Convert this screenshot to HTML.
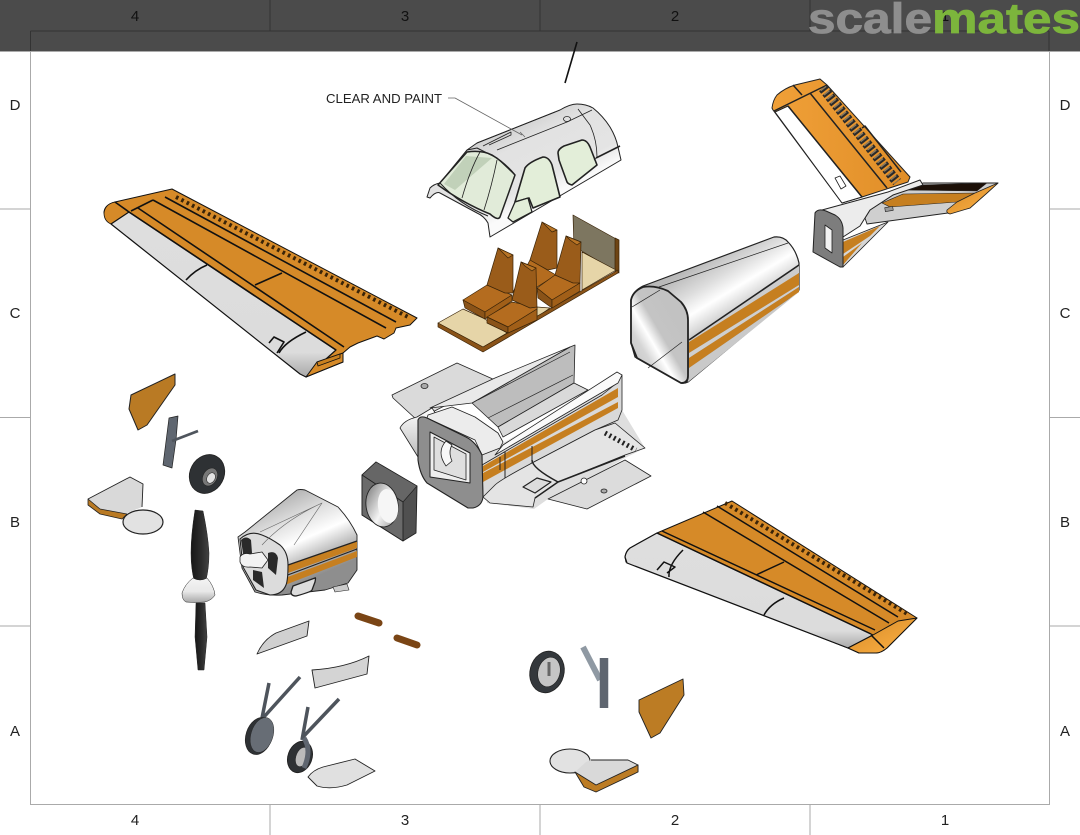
<!DOCTYPE html>
<html><head><meta charset="utf-8"><title>Exploded aircraft diagram</title>
<style>html,body{margin:0;padding:0;background:#fff}svg{display:block}text{font-family:"Liberation Sans",sans-serif}</style></head>
<body>
<svg width="1080" height="835" viewBox="0 0 1080 835" xmlns="http://www.w3.org/2000/svg">
<defs>
<linearGradient id="can" gradientUnits="userSpaceOnUse" x1="520" y1="110" x2="560" y2="190"><stop offset="0" stop-color="#c9c9c9"/><stop offset=".35" stop-color="#e2e2e2"/><stop offset=".8" stop-color="#e4e4e4"/><stop offset="1" stop-color="#fafafa"/></linearGradient>
<linearGradient id="int" x1="0" y1="1" x2="1" y2="0"><stop offset="0" stop-color="#bdbdbd"/><stop offset=".28" stop-color="#d5d5d5"/><stop offset=".4" stop-color="#fff"/><stop offset=".52" stop-color="#c4c4c4"/><stop offset="1" stop-color="#c0c0c0"/></linearGradient>
<linearGradient id="rear" gradientUnits="userSpaceOnUse" x1="700" y1="262" x2="738" y2="325"><stop offset="0" stop-color="#b9b9b9"/><stop offset=".3" stop-color="#dcdcdc"/><stop offset=".55" stop-color="#fff"/><stop offset=".78" stop-color="#d6d6d6"/><stop offset="1" stop-color="#8f8f8f"/></linearGradient>
<linearGradient id="cowl" gradientUnits="userSpaceOnUse" x1="285" y1="495" x2="320" y2="575"><stop offset="0" stop-color="#b4b4b4"/><stop offset=".3" stop-color="#e0e0e0"/><stop offset=".55" stop-color="#fff"/><stop offset=".78" stop-color="#bdbdbd"/><stop offset="1" stop-color="#8e8e8e"/></linearGradient>
<linearGradient id="wg" x1="0" y1="0" x2="0" y2="1"><stop offset="0" stop-color="#dedede"/><stop offset=".85" stop-color="#dcdcdc"/><stop offset="1" stop-color="#a8a8a8"/></linearGradient>
<linearGradient id="tipO" x1="0" y1="0" x2="1" y2="1"><stop offset="0" stop-color="#d68a28"/><stop offset=".7" stop-color="#f2a63c"/><stop offset="1" stop-color="#c47a1c"/></linearGradient>
<linearGradient id="finO" x1="0" y1="0" x2="1" y2="0"><stop offset="0" stop-color="#f0a038"/><stop offset="1" stop-color="#e08e28"/></linearGradient>
<linearGradient id="hole" x1="0" y1="0" x2="1" y2="1"><stop offset="0" stop-color="#6d6d6d"/><stop offset=".55" stop-color="#f5f5f5"/><stop offset="1" stop-color="#8a8a8a"/></linearGradient>
<linearGradient id="hub" x1="0" y1="0" x2="0" y2="1"><stop offset="0" stop-color="#f4f4f4"/><stop offset=".55" stop-color="#e8e8e8"/><stop offset="1" stop-color="#a8a8a8"/></linearGradient>
<linearGradient id="blade" x1="0" y1="0" x2="1" y2="0"><stop offset="0" stop-color="#161616"/><stop offset=".6" stop-color="#2e2e2e"/><stop offset="1" stop-color="#444"/></linearGradient>
<linearGradient id="body" x1="0" y1="0" x2="0" y2="1"><stop offset="0" stop-color="#fff"/><stop offset=".5" stop-color="#ddd"/><stop offset="1" stop-color="#bbb"/></linearGradient>
</defs>
<rect width="1080" height="835" fill="#fff"/>

<!-- Frame -->
<g fill="none" stroke="#aaa" stroke-width="1">
<rect x="30.5" y="30.5" width="1019" height="774"/>
<path d="M0 209H31M0 417.5H31M0 626H31M1049 209H1080M1049 417.5H1080M1049 626H1080M270 0V31M540 0V31M810 0V31M270 804V835M540 804V835M810 804V835"/>
</g>
<g font-size="15" fill="#222" text-anchor="middle">
<text x="15" y="110">D</text><text x="15" y="318">C</text><text x="15" y="527">B</text><text x="15" y="736">A</text>
<text x="1065" y="110">D</text><text x="1065" y="318">C</text><text x="1065" y="527">B</text><text x="1065" y="736">A</text>
<text x="135" y="825">4</text><text x="405" y="825">3</text><text x="675" y="825">2</text><text x="945" y="825">1</text>
</g>

<!-- Left wing -->
<g stroke="#111" stroke-linejoin="round">
<path d="M104 213Q104 205 115 202L172 189L417 318L410 325L396 328L394 333L384 339L377 336L358 343L350 347L343 353L343 362L306 377Z" fill="#d68a28" stroke-width="1"/>
<path d="M104 213Q104 221 111 224L129 212L115 202Q105 204 104 213Z" fill="#d68a28" stroke-width=".8"/>
<path d="M111 224L129 212L336 350L306 377L300 374Z" fill="url(#wg)" stroke-width="1.2"/>
<path d="M306 377L317 362L343 353V362Z" fill="#d68a28" stroke-width="1"/>
<path d="M317 362L340 354V358L318 366Z" fill="#c9801f" stroke-width=".8"/>
<path d="M129 212L336 350M138 208L344 347M115 202L129 212M131 211L153 200M153 200L386 328M165 197L396 322M255 285L282 273M186 280Q195 270 207 265M279 353Q285 342 306 332M269 343L274 337L284 342L277 353" fill="none" stroke-width="1.6"/>
<path d="M176 197L410 318" fill="none" stroke="#3a2408" stroke-width="4" stroke-dasharray="2.6 3.4"/>
</g>

<!-- Right wing -->
<g stroke="#111" stroke-linejoin="round">
<path d="M625 557Q626 551 630 548L657 533L732 501L917 618L887 648Q881 653 876 653H859L848 648L626 562Z" fill="#d68a28" stroke-width="1"/>
<path d="M625 557Q626 551 630 548L657 533L873 635L848 648L627 563Z" fill="url(#wg)" stroke-width="1.2"/>
<path d="M873 635L898 621L917 618L887 648Q881 653 876 653H859L848 648Z" fill="url(#tipO)" stroke-width="1"/>
<path d="M657 533L871 634M662 531L875 630M703 512L889 623M717 506L898 617M756 575L784 562M764 615Q770 604 784 598M669 577Q668 565 683 550M657 570L664 562L675 567L667 573M871 635L884 648" fill="none" stroke-width="1.5"/>
<path d="M725 503L909 615" fill="none" stroke="#3a2408" stroke-width="4" stroke-dasharray="2.6 3.4"/>
</g>

<!-- Canopy -->
<g stroke="#222" stroke-linejoin="round">
<path d="M427 197L430 188Q434 184 440 183L467 150L477 143L560 110Q570 104 577 104Q586 104 593 108Q603 116 610 127Q616 137 618 147L621 160L490 237L488 223Q484 216 477 213L440 193Q436 191 430 198Z" fill="url(#can)" stroke-width="1"/>
<path d="M438 185L467 152Q482 150 492 155Q505 163 515 175L500 217Q498 221 490 214Q463 203 438 185Z" fill="#e1ebd9" stroke-width="1.5"/>
<path d="M444 184L466 156L492 158L455 190Z" fill="#b6c8ad" stroke="none" opacity=".75"/>
<path d="M480 152Q470 170 462 198M497 160Q492 185 484 210" fill="none" stroke-width=".8"/>
<path d="M515 202L525 168Q529 162 543 157Q549 157 552 165L560 197L533 208L529 198Z" fill="#e3eed9" stroke-width="1.6"/>
<path d="M508 218L515 202L528 198L532 212L513 222Z" fill="#e3eed9" stroke-width="1.3"/>
<path d="M558 153Q558 149 564 146L582 140Q587 140 590 147L597 165L572 185Q568 184 567 182L559 160Z" fill="#e3eed9" stroke-width="1.6"/>
<path d="M477 143L555 112M497 150L567 122L592 110M578 109L590 125Q597 140 597 157L594 160M483 146L511 132L511 135L489 145" fill="none" stroke-width=".8"/>
<path d="M440 183Q460 205 488 216M467 150L477 148L497 158L515 175" fill="none" stroke-width="1"/>
<path d="M596 158L620 146" fill="none" stroke-width="1.6"/>
<ellipse cx="567" cy="119" rx="3.5" ry="2.5" fill="none" stroke-width=".8"/>
<path d="M448 98H455L522 135M520 132L525 137" fill="none" stroke="#666" stroke-width=".8"/>
</g>
<text x="326" y="103" font-size="12.5" fill="#222" textLength="116" lengthAdjust="spacingAndGlyphs">CLEAR AND PAINT</text>

<!-- Seats -->
<g stroke="#3a2408" stroke-width=".7" stroke-linejoin="round">
<path d="M573 215L618 240V273L580 250L574 247Z" fill="#7d7660"/>
<path d="M615 238L619 240V273L615 270Z" fill="#6e4515"/>
<path d="M438 323L463 309L483 318L507 333L483 347Z" fill="#e6d5a8"/>
<path d="M582 252L616 270L582 290Z" fill="#e6d5a8"/>
<path d="M537 307L550 308L537 317Z" fill="#e6d5a8"/>
<path d="M438 323L483 347L618 270V273L483 352L438 327Z" fill="#8a5318"/>
<path d="M513 292L530 260L556 275L537 287Z" fill="#b46c1f"/>
<path d="M530 260L542 222L557 230L557 268L548 270Z" fill="#9a5c1a"/>
<path d="M542 222L557 230L552 232L546 226Z" fill="#b87425"/>
<path d="M537 288L555 275L580 283L552 300Z" fill="#b46c1f"/>
<path d="M537 288L552 300V308L538 298Z" fill="#8a5318"/>
<path d="M552 300L580 283V291L552 308Z" fill="#a15f18"/>
<path d="M555 275L566 236L581 242L580 283L573 283Z" fill="#9a5c1a"/>
<path d="M566 236L581 242L577 245L570 240Z" fill="#b87425"/>
<path d="M463 300L487 285L512 295L485 312Z" fill="#b46c1f"/>
<path d="M463 300L485 312V319L465 308Z" fill="#8a5318"/>
<path d="M485 312L512 295V301L485 319Z" fill="#a15f18"/>
<path d="M487 285L498 248L513 255L513 293L505 293Z" fill="#9a5c1a"/>
<path d="M498 248L513 255L508 258L502 252Z" fill="#b87425"/>
<path d="M487 317L512 302L537 307L537 309L508 327Z" fill="#b46c1f"/>
<path d="M487 317L508 327V333L487 323Z" fill="#8a5318"/>
<path d="M508 327L537 309V320L508 333Z" fill="#a15f18"/>
<path d="M512 300L521 262L536 268L537 307L530 308Z" fill="#9a5c1a"/>
<path d="M521 262L536 268L532 271L525 266Z" fill="#b87425"/>
</g>

<!-- Center fuselage -->
<g stroke="#222" stroke-linejoin="round" stroke-width=".8">
<path d="M392 395L457 363L495 380L417 420L393 398Z" fill="#dadada"/>
<ellipse cx="424.500" cy="386" rx="3.5" ry="2.5" fill="#aaa"/>
<path d="M472 403L570 347L575 345L574 383L498 427Z" fill="#bdbdbd"/>
<path d="M478 400L570 352M488 418L573 375" fill="none" stroke-width=".7"/>
<path d="M498 427L574 383L588 390L503 437Z" fill="#d9d9d9"/>
<path d="M430 408L495 378L570 347L472 403Z" fill="#e9e9e9"/>
<path d="M400 428Q404 420 417 417L432 408L440 420L420 458L418 457Z" fill="url(#body)"/>
<path d="M482 455L622 375V410L645 448L625 458L587 480L548 499L534 509L487 503Z" fill="#dedede" stroke="none"/>
<path d="M482 465L602 395L618 382L622 375L622 410L618 420L595 430L532 463L495 487L483 497Z" fill="#d9d9d9"/>
<path d="M503 445L617 372L622 375L618 383L495 455Z" fill="#fafafa"/>
<path d="M483 466L618 388V397L483 472Z" fill="#c67f20" stroke="none"/>
<path d="M483 473L618 402V408L483 482Z" fill="#c67f20" stroke="none"/>
<path d="M500 457V470M505 452V480M532 446V463" fill="none" stroke-width="1"/>
<path d="M483 497L495 485Q500 480 532 463L595 430L615 423L645 448L625 455L558 482L535 498L533 507L490 503Z" fill="#e4e4e4"/>
<path d="M605 433L636 450" fill="none" stroke="#222" stroke-width="5" stroke-dasharray="2 3"/>
<path d="M532 460Q532 468 558 482M535 498L558 482L625 456" fill="none" stroke-width="1.5"/>
<path d="M523 487L537 478L551 482L535 493Z" fill="#ddd" stroke-width="1.2"/>
<path d="M548 499L625 460L651 476L587 509Z" fill="#dcdcdc"/>
<circle cx="584" cy="481" r="3" fill="#fff"/><ellipse cx="604" cy="491" rx="3" ry="2" fill="#aaa"/>
<path d="M428 415L452 407L475 417L498 433L503 442L500 448L482 455L475 440L427 418Z" fill="#ececec"/>
<path d="M418 420Q420 415 427 418L466 437Q476 442 482 455L483 497Q482 506 473 508L468 508L427 483Q420 475 418 460Z" fill="#8e8e8e" stroke-width="1.1"/>
<path d="M430 432L470 453L470 483L430 477Z" fill="#eee" stroke-width="1"/>
<path d="M434 437L466 454V480L434 470Z" fill="#dfdfdf"/>
<path d="M446 441Q436 452 446 466L452 461Q448 452 452 445Z" fill="#f8f8f8"/>
</g>

<!-- Rear fuselage -->
<g stroke="#222" stroke-linejoin="round">
<path d="M631 300Q633 291 643 286L774 237Q783 236 788 242Q796 250 799 263V290L688 382Q684 384 681 383L635 357L631 343Z" fill="url(#rear)" stroke-width="1.2"/>
<path d="M689 340L799 265V273L689 342Z" fill="#ccc" stroke="none"/>
<path d="M689 342L799 273V285L689 353Z" fill="#c67f20" stroke="none"/>
<path d="M689 353L799 285V287L689 358Z" fill="#cfcfcf" stroke="none"/>
<path d="M689 358L799 287V292L689 368Z" fill="#c67f20" stroke="none"/>
<path d="M689 368L799 292L688 382Z" fill="#c9c9c9" stroke="none"/>
<path d="M689 340L799 265" fill="none" stroke-width="1.6"/>
<path d="M631 300Q633 291 643 287Q655 285 668 291L681 302Q688 310 688 320V376Q688 383 681 383L637 358L631 343Z" fill="url(#int)" stroke-width="1.8"/>
<path d="M632 307L660 290M648 368L682 342M659 287L788 243" fill="none" stroke-width=".7"/>
</g>

<!-- Tail -->
<g stroke="#222" stroke-linejoin="round">
<path d="M772 108Q773 100 777 95Q785 88 795 85L820 79L827 85L910 177L908 182L862 197L842 203L773 110Z" fill="url(#finO)" stroke-width="1"/>
<path d="M775 112L788 106L862 197L842 203Z" fill="#fff" stroke-width="1"/>
<path d="M774 111L827 85M788 106L862 197M810 93L887 188M793 85L802 95M862 128L865 126L901 172" fill="none" stroke-width="1.5"/>
<path d="M823 88L897 182" fill="none" stroke="#2a2a2a" stroke-width="10" stroke-dasharray="3.4 2"/>
<path d="M823 88L897 182" fill="none" stroke="#8a7a60" stroke-width="7" stroke-dasharray="1.4 4"/>
<path d="M835 178L840 176L846 186L841 189Z" fill="#fff" stroke-width=".8"/>
<path d="M843 240L888 222L843 267Z" fill="#d6d6d6" stroke-width=".8"/>
<path d="M843 242L880 226L870 236L843 254Z" fill="#c67f20" stroke="none"/>
<path d="M843 257L862 243L843 265Z" fill="#c67f20" stroke="none"/>
<path d="M865 218L870 210L893 195L923 183L998 183L987 193L970 208L948 213L867 224Z" fill="#cfcfcf" stroke-width=".9"/>
<path d="M882 203L903 194L975 193L957 202L890 207Z" fill="#c67f20" stroke-width=".6"/>
<path d="M903 190L920 185L987 183L977 191Z" fill="#1c1008" stroke-width=".5"/>
<path d="M947 210L957 202L975 193L998 183L987 193L970 208L950 214Q946 213 947 210Z" fill="url(#tipO)" stroke-width=".8"/>
<path d="M815 213L822 210L888 192L920 180L923 185L893 195L870 210L865 218L860 226L843 237L843 240L835 215Z" fill="#ececec" stroke-width="1"/>
<path d="M815 213Q818 208 826 211L835 215Q842 219 843 228V267L840 267L813 252Z" fill="#7d7d7d" stroke-width="1"/>
<path d="M825 225L832 230V253L825 248Z" fill="#f2f2f2" stroke-width=".8"/>
<rect x="885" y="207" width="8" height="4" transform="rotate(-10 889 209)" fill="#999" stroke-width=".6"/>
</g>

<!-- Small left parts -->
<g stroke="#222" stroke-linejoin="round">
<path d="M131 395L175 374V385L147 425L138 430L129 409Z" fill="#b97a24" stroke-width="1"/>
<path d="M169 418L178 416L176 440L172 468L163 465Z" fill="#5f6670" stroke-width=".7"/>
<path d="M172 441L198 431" stroke="#4f555d" stroke-width="2.8" fill="none"/>
<ellipse cx="207" cy="474" rx="17" ry="20" transform="rotate(28 207 474)" fill="#2e3134" stroke-width=".8"/>
<ellipse cx="210" cy="477" rx="7" ry="9.500" transform="rotate(28 210 477)" fill="#777" stroke-width=".5"/>
<ellipse cx="211" cy="478" rx="4" ry="5.500" transform="rotate(28 211 478)" fill="#e2e2e2" stroke-width=".5"/>
<ellipse cx="143" cy="522" rx="20" ry="12" fill="#e2e2e2" stroke-width="1.2"/>
<path d="M88 499L130 477L143 484L142 507L125 514L122 519L100 514L88 505Z" fill="#d9d9d9" stroke="none"/>
<path d="M88 499L130 477L143 484L142 507" fill="none" stroke-width=".9"/>
<path d="M88 499L100 509L127 514L122 519L100 514L88 505Z" fill="#b97a24" stroke-width=".8"/>
<path d="M195 510L203 511Q208 535 209 553Q209 568 206 580H194Q191 568 191 553Q191 535 195 510Z" fill="url(#blade)" stroke-width=".5"/>
<path d="M196 603H205L207 637L204 670H198L195 637Z" fill="url(#blade)" stroke-width=".5"/>
<path d="M193 578Q200 582 207 578Q214 586 215 595Q212 600 205 602Q195 603 186 602Q182 600 182 593Q185 584 193 578Z" fill="url(#hub)" stroke-width=".5"/>
<path d="M238 537L245 532L297 490Q300 489 305 490L338 507Q350 520 357 535V570L348 583L325 590L282 595Q268 596 255 592L242 568Z" fill="url(#cowl)" stroke-width=".9"/>
<path d="M288 565L357 541V548L288 573Z" fill="#c67f20" stroke="none"/>
<path d="M268 577L285 578L357 551V557L285 585L268 582Z" fill="#c67f20" stroke="none"/>
<path d="M288 565L357 541M285 576L357 549" fill="none" stroke-width="1.2"/>
<path d="M293 586L315 578Q316 577 315 582L312 590Q311 592 296 596Q291 596 291 592Z" fill="#ddd" stroke-width="1.3"/>
<path d="M240 539Q250 530 262 535Q270 538 280 545Q288 552 288 565Q288 580 286 585Q282 595 270 595L256 590L243 567Z" fill="#dcdcdc" stroke-width="1.1"/>
<path d="M241 540Q246 535 251 540L252 553L244 560ZM268 553Q276 550 278 558L276 575L268 568ZM253 580L264 588L262 572L253 570Z" fill="#2a2a2a" stroke="none"/>
<path d="M240 557Q243 552 250 554L262 552L268 560L262 568L250 567Q242 568 240 562Z" fill="#f2f2f2" stroke-width=".8"/>
<path d="M260 532L322 503L294 545M262 545Q285 520 322 503" fill="none" stroke="#666" stroke-width=".6"/>
<path d="M333 587L347 584L349 590L335 592Z" fill="#ccc" stroke-width=".6"/>
<path d="M362 475L376 462L417 486L416 533L403 541L362 515Z" fill="#505050" stroke-width=".9"/>
<path d="M362 475L376 462L417 486L403 502Z" fill="#666" stroke-width=".7"/>
<path d="M362 475L403 502V541L362 515Z" fill="#6a6a6a" stroke-width=".9"/>
<ellipse cx="382" cy="505" rx="16" ry="22" transform="rotate(-8 382 505)" fill="url(#hole)" stroke-width=".9"/>
<ellipse cx="388" cy="506" rx="10" ry="17" transform="rotate(-8 388 506)" fill="#f6f6f6" stroke="none"/>
<path d="M257 654Q263 640 276 633L309 621L307 636L257 654Z" fill="#d0d0d0" stroke-width=".9"/>
<path d="M312 670Q345 668 369 656L367 674L315 688Z" fill="#d4d4d4" stroke-width=".9"/>
<path d="M308 777Q313 770 323 767L355 759L375 771L347 785Q330 790 317 786Z" fill="#e0e0e0" stroke-width=".9"/>
<path d="M358 616L379 623M397 638L417 645" stroke="#7a4515" stroke-width="7" stroke-linecap="round" fill="none"/>
<path d="M269 683L262 718M300 677L263 718" stroke="#4e545c" stroke-width="3.5" fill="none"/>
<ellipse cx="259" cy="736" rx="13" ry="19" transform="rotate(18 259 736)" fill="#2e3134" stroke-width=".7"/>
<ellipse cx="262" cy="735" rx="11" ry="18" transform="rotate(18 262 735)" fill="#676d75" stroke-width=".4"/>
<path d="M308 707L302 740M339 699L302 738" stroke="#4e545c" stroke-width="3.500" fill="none"/>
<ellipse cx="300" cy="757" rx="12" ry="16" transform="rotate(20 300 757)" fill="#2e3134" stroke-width=".9"/>
<ellipse cx="302" cy="757" rx="6" ry="10" transform="rotate(20 302 757)" fill="#bbb" stroke-width=".4"/>
<path d="M304 738Q312 750 304 768" stroke="#5f6670" stroke-width="5" fill="none"/>
</g>

<!-- Small right parts -->
<g stroke="#222" stroke-linejoin="round">
<ellipse cx="547" cy="672" rx="17" ry="21" transform="rotate(15 547 672)" fill="#34383c" stroke-width=".8"/>
<ellipse cx="549" cy="672" rx="11" ry="15" transform="rotate(15 549 672)" fill="#c5c5c5" stroke-width=".6"/>
<path d="M549 676V662" stroke="#666" stroke-width="3" fill="none"/>
<path d="M583 647L600 680" stroke="#8f99a3" stroke-width="6" fill="none"/>
<path d="M604 658V708" stroke="#5f6670" stroke-width="8.500" fill="none"/>
<path d="M639 700L683 679L684 695L660 733L651 738L639 712Z" fill="#bc7c24" stroke-width=".9"/>
<ellipse cx="570" cy="761" rx="20" ry="12" fill="#e2e2e2" stroke-width="1.1"/>
<path d="M575 772L586 762L591 760H628L638 765V772L596 792L584 787Z" fill="#d9d9d9" stroke="none"/>
<path d="M591 760H628L638 765V772" fill="none" stroke-width=".9"/>
<path d="M575 772L596 785L638 765V772L596 792L584 787Z" fill="#bc7c24" stroke-width=".9"/>
</g>

<!-- Dark header -->
<rect x="0" y="0" width="1080" height="51" fill="#4b4b4b"/>
<path d="M0 51.500H1080" stroke="#aaa" stroke-width="1"/>
<path d="M30.500 31H1049M30.500 31V51M1049 31V51M270 0V31M540 0V31M810 0V31" stroke="#333" stroke-width="1" fill="none"/>
<g font-size="15" fill="#111" text-anchor="middle">
<text x="135" y="21">4</text><text x="405" y="21">3</text><text x="675" y="21">2</text><text x="945" y="21">1</text>
</g>
<path d="M577 42L565 83" stroke="#111" stroke-width="1.600" fill="none"/>
<text x="808" y="33" font-size="43" font-weight="bold" fill="#8e8e8e" stroke="#8e8e8e" stroke-width=".8" textLength="124" lengthAdjust="spacingAndGlyphs">scale</text>
<text x="932" y="33" font-size="43" font-weight="bold" fill="#7cb53c" stroke="#7cb53c" stroke-width=".8" textLength="148" lengthAdjust="spacingAndGlyphs">mates</text>
</svg>
</body></html>
